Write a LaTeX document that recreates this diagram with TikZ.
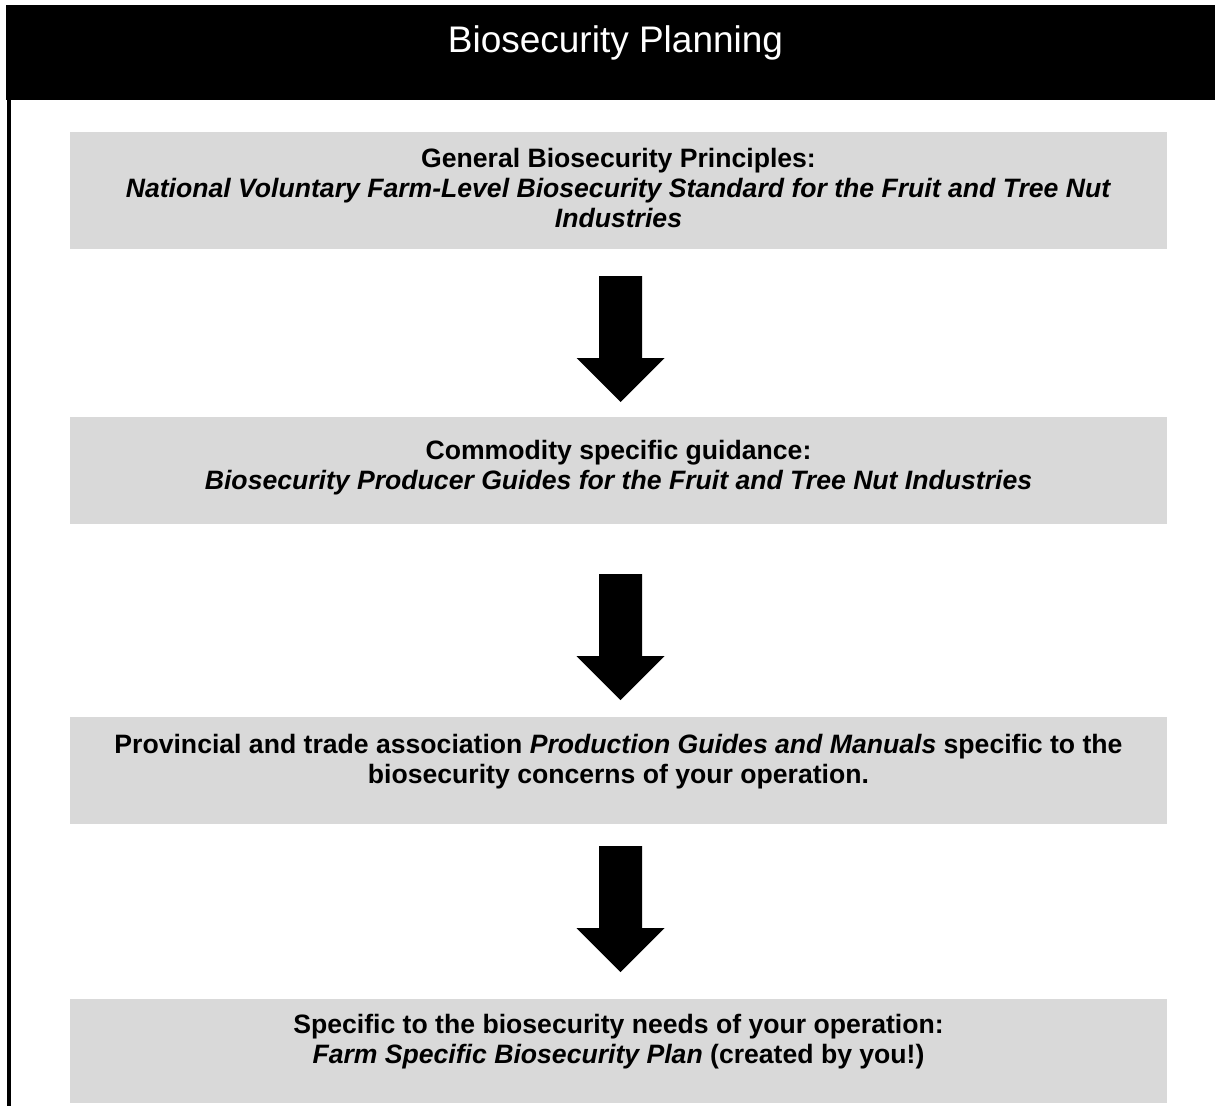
\documentclass[tikz,border=0pt]{standalone}
\usepackage{fontspec}
\setmainfont{Liberation Sans}

\definecolor{boxgray}{RGB}{217,217,217}

\tikzset{
    gbox/.style={rectangle,fill=boxgray,minimum width=1097pt,inner sep=0pt,anchor=north},
    btext/.style={align=center,anchor=base,inner sep=0pt,font=\fontsize{26.6}{30}\selectfont\bfseries},
    pics/bigarrow/.style={code={
        \fill (-21.5,0) -- (21.5,0) -- (21.5,82) -- (44,82) -- (0,126) -- (-44,82) -- (-21.5,82) -- cycle;
    }}
}

\begin{document}
\begin{tikzpicture}[x=1pt,y=-1pt]
        \useasboundingbox (0,0) rectangle (1215,1106);

        % header bar and frame
        \node[rectangle,fill=black,minimum width=1212pt,minimum height=95pt,inner sep=0pt,anchor=north west] (head) at (6,5) {};
        \node[anchor=base,text=white,inner sep=0pt,font=\fontsize{37}{44}\selectfont] (title) at (615.5,52) {Biosecurity Planning};
        \coordinate (lbot) at (9,1106);
        \draw[line width=3.5pt] (head.south west -| lbot) -- (lbot);

        % the four steps
        \node[gbox,minimum height=117pt] (b1) at (618.5,132) {};
        \node[gbox,minimum height=107pt] (b2) at (618.5,417) {};
        \node[gbox,minimum height=107pt] (b3) at (618.5,717) {};
        \node[gbox,minimum height=104pt] (b4) at (618.5,999) {};

        % text sits on the baseline of its last line
        \node[btext] (t1) at (618.5,227) {General Biosecurity Principles:\\
            \textit{National Voluntary Farm-Level Biosecurity Standard for the Fruit and Tree Nut}\\
            \textit{Industries}};
        \node[btext] (t2) at (618.5,489) {Commodity specific guidance:\\
            \textit{Biosecurity Producer Guides for the Fruit and Tree Nut Industries}};
        \node[btext] (t3) at (618.5,783) {Provincial and trade association \textit{Production Guides and Manuals} specific to the\\
            biosecurity concerns of your operation.};
        \node[btext] (t4) at (618.5,1063) {Specific to the biosecurity needs of your operation:\\
            \textit{Farm Specific Biosecurity Plan} (created by you!)};

        % arrows between the steps
        \pic at (620.5,276) {bigarrow};
        \pic at (620.5,574) {bigarrow};
        \pic at (620.5,846) {bigarrow};

    \end{tikzpicture}
\end{document}
